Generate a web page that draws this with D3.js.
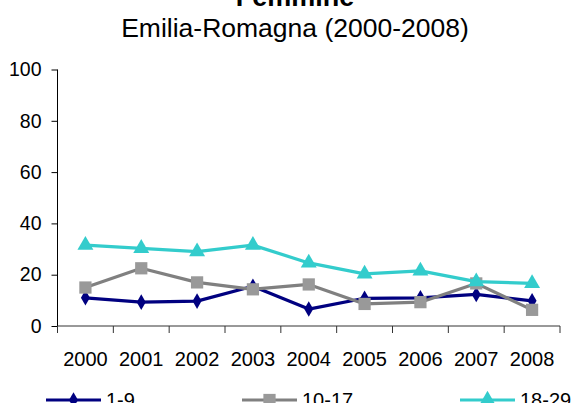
<!DOCTYPE html>
<html>
<head>
<meta charset="utf-8">
<title>Femmine</title>
<script src="https://d3js.org/d3.v7.min.js"></script>
<style>
  body { margin: 0; background: #fff; }
  text { font-family: Arial, "Liberation Sans", sans-serif; fill: #000; }
</style>
</head>
<body>
<svg id="chart" width="571" height="403"></svg>
<script>
// data
var years = ["2000", "2001", "2002", "2003", "2004", "2005", "2006", "2007", "2008"];
var eta1_9 = [11, 9.3, 9.7, 15.5, 6.6, 10.8, 11, 12.3, 9.8];
var eta10_17 = [15, 22.5, 17, 14.3, 16.2, 8.6, 9.3, 16.6, 6.3];
var eta18_29 = [31.5, 30.3, 29, 31.5, 24.6, 20.3, 21.5, 17.3, 16.6];
var yTicks = [0, 20, 40, 60, 80, 100];

var series = [
  { name: "1-9", values: eta1_9, line: "#000080", fill: "#000080", symbol: d3.symbolDiamond, size: 70 },
  { name: "10-17", values: eta10_17, line: "#808080", fill: "#999999", symbol: d3.symbolSquare, size: 150 },
  { name: "18-29", values: eta18_29, line: "#33CCCC", fill: "#33CCCC", symbol: d3.symbolTriangle, size: 110 }
];

var svg = d3.select("#chart");

var x = d3.scaleBand().domain(years).range([57.5, 560]);
var y = d3.scaleLinear().domain([0, 100]).range([326, 69.5]);

// titles
svg.append("text").attr("x", 295).attr("y", 6).attr("text-anchor", "middle")
  .style("font-size", "27px").style("font-weight", "bold").text("Femmine");
svg.append("text").attr("x", 295).attr("y", 37).attr("text-anchor", "middle")
  .style("font-size", "26.5px").text("Emilia-Romagna (2000-2008)");

// y axis
var yAxis = svg.append("g").attr("transform", "translate(57.5,0)")
  .call(d3.axisLeft(y).tickValues(yTicks).tickSize(6).tickPadding(10));
yAxis.select(".domain").attr("stroke", "#000").attr("d", "M0," + y(100) + "V" + y(0));
yAxis.selectAll(".tick line").attr("stroke", "#000");
yAxis.selectAll("text").style("font-size", "19.5px").attr("fill", "#000");

// x axis, ticks between categories
var xAxis = svg.append("g").attr("transform", "translate(0," + y(0) + ")")
  .call(d3.axisBottom(x).tickSize(0).tickPadding(26));
xAxis.select(".domain").attr("stroke", "#333").attr("d", "M57.5,0H560");
xAxis.selectAll("text").style("font-size", "20px").attr("fill", "#000");
xAxis.selectAll(".sep").data(years.concat(["end"])).enter().append("line")
  .attr("x1", function(d, i) { return i < years.length ? x(d) : x.range()[1]; })
  .attr("x2", function(d, i) { return i < years.length ? x(d) : x.range()[1]; })
  .attr("y1", 0).attr("y2", 7).attr("stroke", "#333");

// lines and markers
var line = d3.line()
  .x(function(d, i) { return x(years[i]) + x.bandwidth() / 2; })
  .y(function(d) { return y(d); });

series.forEach(function(s) {
  svg.append("path").datum(s.values).attr("d", line)
    .attr("fill", "none").attr("stroke", s.line).attr("stroke-width", 3.2)
    .attr("stroke-linejoin", "round");
  svg.selectAll(null).data(s.values).enter().append("path")
    .attr("d", d3.symbol().type(s.symbol).size(s.size))
    .attr("transform", function(d, i) {
      return "translate(" + (x(years[i]) + x.bandwidth() / 2) + "," + y(d) + ")";
    })
    .attr("fill", s.fill);
});

// legend
var legendX = [46, 242, 460];
series.forEach(function(s, i) {
  var g = svg.append("g").attr("transform", "translate(" + legendX[i] + ",400)");
  g.append("line").attr("x1", 0).attr("x2", 55).attr("y1", 0).attr("y2", 0)
    .attr("stroke", s.line).attr("stroke-width", 3.2);
  g.append("path").attr("d", d3.symbol().type(s.symbol).size(s.size))
    .attr("transform", "translate(27.5,0)").attr("fill", s.fill);
  g.append("text").attr("x", 60).attr("y", 7).style("font-size", "20px").text(s.name);
});
</script>
</body>
</html>
